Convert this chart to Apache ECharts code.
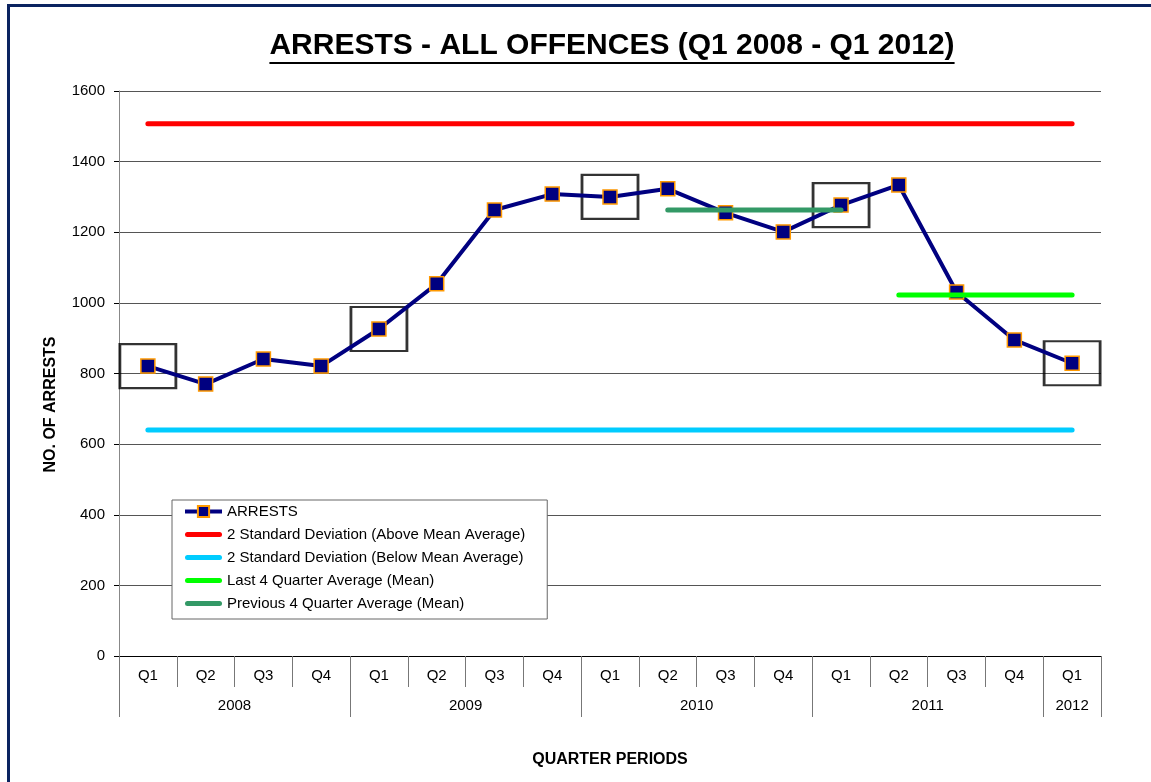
<!DOCTYPE html>
<html>
<head>
<meta charset="utf-8">
<title>Arrests - All Offences</title>
<script src="https://cdn.jsdelivr.net/npm/echarts@6/dist/echarts.min.js"></script>
<style>
  html, body { margin: 0; padding: 0; background: #fff; }
  #chart { position: absolute; left: 0; top: 0; width: 1151px; height: 782px; }
  /* dark frame along top and left edge, like the original sheet */
  #frame {
    position: absolute; left: 7px; top: 4px; right: 0; bottom: 0;
    border-top: 3px solid #0b2360; border-left: 3px solid #0b2360;
    pointer-events: none;
  }
</style>
</head>
<body>
<div id="chart"></div>
<div id="frame"></div>
<script>
  // quarters and years on the x axis
  const quarters = ['Q1','Q2','Q3','Q4','Q1','Q2','Q3','Q4','Q1','Q2','Q3','Q4','Q1','Q2','Q3','Q4','Q1']
  const years = ['2008', '2009', '2010', '2011', '2012']
  const quartersPerYear = [4, 4, 4, 4, 1]

  // arrests per quarter
  const arrests = [821, 770, 841, 821, 926, 1054, 1263, 1308, 1300, 1323, 1255, 1201, 1277, 1334, 1031, 895, 829]
  // Q1 points that get a box round them
  const boxed = [0, 4, 8, 12, 16]

  // reference lines
  const upper2sd = 1507
  const lower2sd = 640
  const last4Avg = 1022
  const last4Range = [13, 16]
  const prev4Avg = 1263
  const prev4Range = [9, 12]

  const yTicks = [0, 200, 400, 600, 800, 1000, 1200, 1400, 1600]

  const font = "'Liberation Sans', Arial, sans-serif"

  function flat(v) { return quarters.map(() => v) }
  function span(v, r) { return quarters.map((q, i) => (i >= r[0] && i <= r[1]) ? v : null) }

  // year separators and label positions on the second (value) axis
  const yearBounds = [0]
  const yearMids = []
  quartersPerYear.forEach(n => {
    const start = yearBounds[yearBounds.length - 1]
    yearMids.push(start + n / 2)
    yearBounds.push(start + n)
  })

  const titleText = 'ARRESTS - ALL OFFENCES (Q1 2008 - Q1 2012)'
  const titleSize = 30
  const ctx = document.createElement('canvas').getContext('2d')
  ctx.font = 'bold ' + titleSize + 'px ' + font
  const titleW = ctx.measureText(titleText).width
  const titleCx = 612

  const myChart = echarts.init(document.getElementById('chart'), null, { renderer: 'canvas' })

  const lineSeries = (name, data, color) => ({
    name: name,
    type: 'line',
    data: data,
    symbol: 'none',
    z: 4,
    color: color,
    lineStyle: { color: color, width: 5, cap: 'round' },
    emphasis: { disabled: true }
  })

  // thin bar used as legend icon for the reference lines
  const barIcon = 'path://M2,0 L34,0 A2.5,2.5 0 0 1 34,5 L2,5 A2.5,2.5 0 0 1 2,0 Z'

  const option = {
    animation: false,
    textStyle: { fontFamily: font },
    title: {
      text: titleText,
      left: titleCx - titleW / 2,
      top: 31,
      padding: 0,
      textStyle: { fontSize: titleSize, fontWeight: 'bold', color: '#000', fontFamily: font }
    },
    graphic: [{
      type: 'line',
      shape: { x1: titleCx - titleW / 2, y1: 63, x2: titleCx + titleW / 2, y2: 63 },
      style: { stroke: '#000', lineWidth: 2 }
    }],
    legend: {
      orient: 'vertical',
      left: 172,
      top: 500,
      backgroundColor: '#fff',
      borderColor: '#666',
      borderWidth: 1,
      padding: [4, 22, 8, 11],
      itemGap: 8,
      itemWidth: 37,
      itemHeight: 14,
      textStyle: { fontSize: 15, color: '#000' },
      data: [
        { name: 'ARRESTS', lineStyle: { width: 4 } },
        { name: '2 Standard Deviation (Above Mean Average)', icon: barIcon },
        { name: '2 Standard Deviation (Below Mean Average)', icon: barIcon },
        { name: 'Last 4 Quarter Average (Mean)', icon: barIcon },
        { name: 'Previous 4 Quarter Average (Mean)', icon: barIcon }
      ]
    },
    grid: { left: 119, right: 50, top: 91, bottom: 126, containLabel: false },
    xAxis: [
      {
        type: 'category',
        data: quarters,
        boundaryGap: true,
        axisLine: { lineStyle: { color: '#000', width: 1 } },
        axisTick: { show: true, length: 31, lineStyle: { color: '#777' } },
        axisLabel: { margin: 12, fontSize: 15, color: '#000' }
      },
      {
        type: 'value',
        min: 0,
        max: quarters.length,
        position: 'bottom',
        axisLine: { show: false },
        splitLine: { show: false },
        axisTick: { show: true, customValues: yearBounds, length: 61, lineStyle: { color: '#777' } },
        axisLabel: {
          customValues: yearMids,
          margin: 42,
          fontSize: 15,
          color: '#000',
          formatter: v => years[yearMids.indexOf(v)]
        },
        name: 'QUARTER PERIODS',
        nameLocation: 'middle',
        nameGap: 96,
        nameTextStyle: { fontSize: 16, fontWeight: 'bold', color: '#000' }
      }
    ],
    yAxis: {
      type: 'value',
      min: yTicks[0],
      max: yTicks[yTicks.length - 1],
      interval: 200,
      axisLine: { show: true, lineStyle: { color: '#888' } },
      axisTick: { show: true, length: 5, lineStyle: { color: '#000' } },
      axisLabel: { fontSize: 15, color: '#000', margin: 14, formatter: v => String(v) },
      splitLine: { lineStyle: { color: '#555', width: 1 } },
      name: 'NO. OF ARRESTS',
      nameLocation: 'middle',
      nameGap: 60,
      nameTextStyle: { fontSize: 16, fontWeight: 'bold', color: '#000', padding: [0, 62, 0, 0] }
    },
    series: [
      {
        name: 'ARRESTS',
        type: 'line',
        data: arrests,
        z: 3,
        color: '#000080',
        symbol: 'rect',
        symbolSize: 14,
        lineStyle: { color: '#000080', width: 4 },
        itemStyle: { color: '#000080', borderColor: '#ff9900', borderWidth: 1.5 },
        emphasis: { disabled: true }
      },
      {
        name: 'Q1 boxes',
        type: 'scatter',
        data: boxed.map(i => [i, arrests[i]]),
        symbol: 'rect',
        symbolSize: [56, 44],
        z: 2,
        itemStyle: { color: 'rgba(0,0,0,0)', borderColor: '#000', borderWidth: 2.5 },
        emphasis: { disabled: true }
      },
      lineSeries('2 Standard Deviation (Above Mean Average)', flat(upper2sd), '#ff0000'),
      lineSeries('2 Standard Deviation (Below Mean Average)', flat(lower2sd), '#00ccff'),
      lineSeries('Last 4 Quarter Average (Mean)', span(last4Avg, last4Range), '#00ff00'),
      lineSeries('Previous 4 Quarter Average (Mean)', span(prev4Avg, prev4Range), '#339966')
    ]
  }

  myChart.setOption(option)
</script>
</body>
</html>
